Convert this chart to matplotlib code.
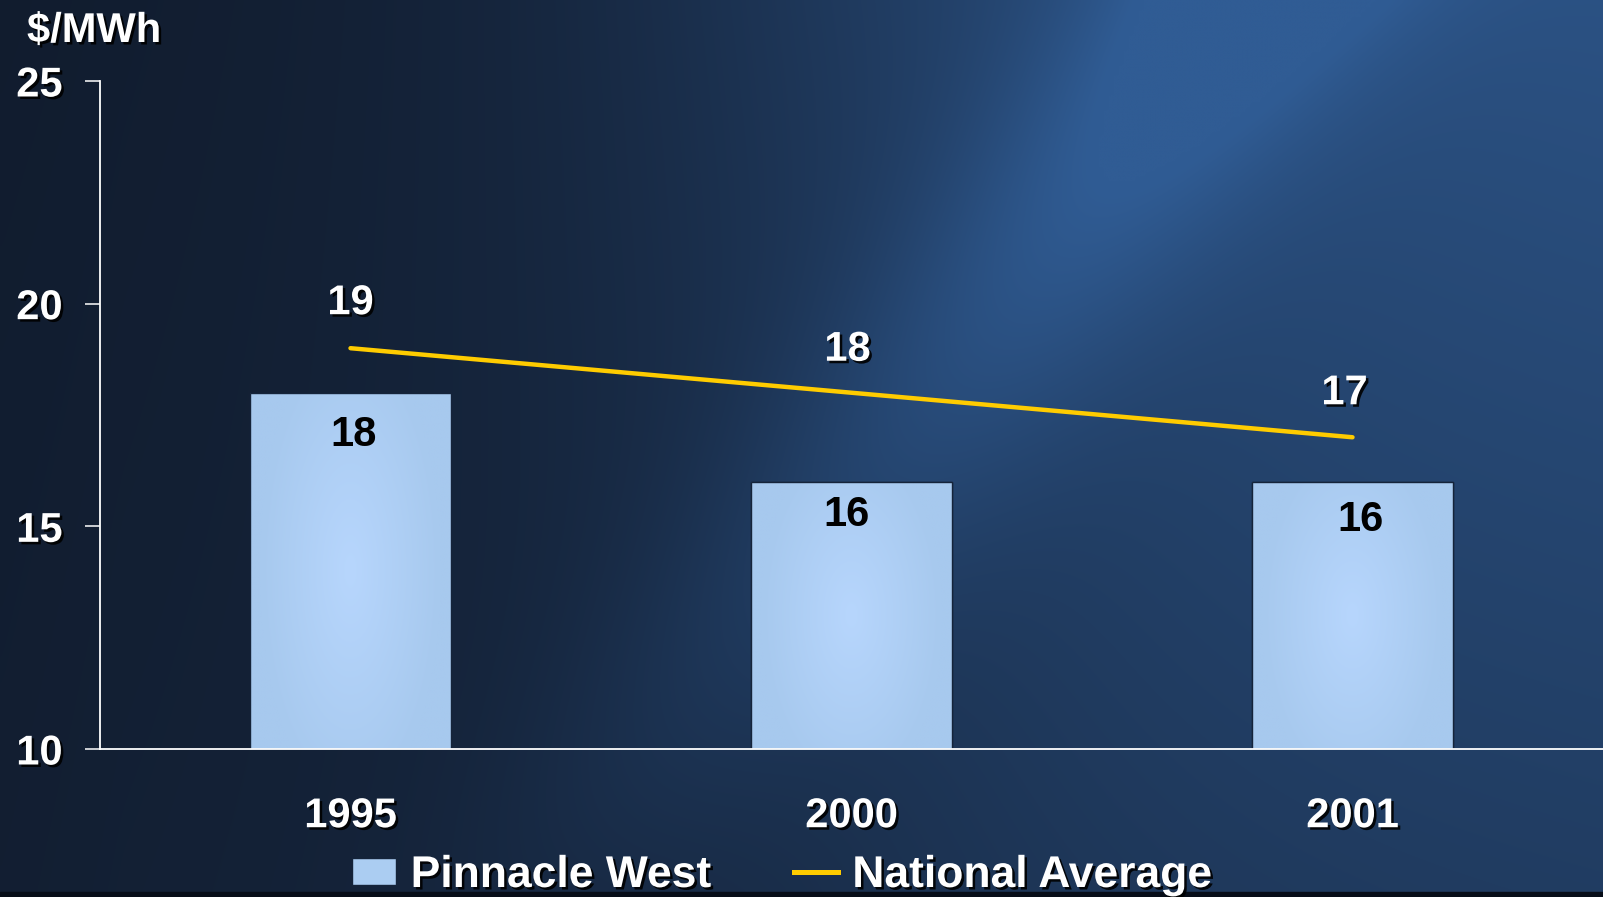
import numpy as np
import matplotlib
matplotlib.use("Agg")
import matplotlib.pyplot as plt
import matplotlib.patheffects as pe
from matplotlib.lines import Line2D
from matplotlib.patches import Patch

# ---- data ----
years = ["1995", "2000", "2001"]
pinnacle_west = [18, 16, 16]
national_average = [19, 18, 17]
y_ticks = [10, 15, 20, 25]
unit_label = "$/MWh"

W, H = 1603, 897
fig = plt.figure(figsize=(W / 100, H / 100), dpi=100)
plt.rcParams['font.family'] = ['Liberation Sans', 'DejaVu Sans']

# ---- background ----
bg = fig.add_axes([0, 0, 1, 1], zorder=-10)
bg.set_axis_off()
h, w = 180, 320
yy, xx = np.mgrid[0:h, 0:w]
X = xx / w * W
Y = yy / h * H
base = np.array(matplotlib.colors.to_rgb('#111c2e'))
hi = np.array(matplotlib.colors.to_rgb('#305c94'))
glow = (1 / (1 + np.exp(-(X - 800) / 180))) * (0.72 - 0.38 * Y / H)
x0, y0, x1, y1 = 1240, 0, 560, 897
dx, dy = x1 - x0, y1 - y0
L = np.hypot(dx, dy)
d = np.abs((X - x0) * dy - (Y - y0) * dx) / L
streak = 0.45 * np.exp(-(d / 130) ** 2) * np.clip(1.0 - Y / 1000, 0, 1)
ramp = 0.12 * X / W + 0.05 * (Y / H)
I = np.clip(glow + streak + ramp, 0, 1)
I = I * np.clip(0.75 + 0.25 * X / 120, 0, 1)
I = I[..., None]
img = base * (1 - I) + hi * I
bg.imshow(img, extent=[0, 1, 0, 1], aspect='auto', interpolation='bicubic')
bg.set_xlim(0, 1)
bg.set_ylim(0, 1)
bg.axhspan(0, 5 / H, color='#070d18')

# ---- main axes ----
ax = fig.add_axes([100 / W, 1 - 749 / H, 1 - 100 / W, (749 - 81) / H])
ax.patch.set_alpha(0)
x = np.arange(len(years))
bar_w = 0.4
bars = ax.bar(x, pinnacle_west, width=bar_w, bottom=0, color='#abcdf2',
              edgecolor='#15243a', linewidth=1.0, zorder=2)

gx = np.linspace(-1, 1, 200)
gy = np.linspace(-1, 1, 200)
GX, GY = np.meshgrid(gx, gy)
gr = np.clip(1 - np.sqrt((GX / 0.9) ** 2 + (GY / 1.3) ** 2), 0, 1)[..., None]
c_edge = np.array(matplotlib.colors.to_rgb('#a7c9ee'))
c_mid = np.array(matplotlib.colors.to_rgb('#b7d6fd'))
gimg = c_edge * (1 - gr) + c_mid * gr
for b in bars:
    x0b, wb, hb = b.get_x(), b.get_width(), b.get_height()
    im = ax.imshow(gimg, extent=[x0b, x0b + wb, 10, hb], aspect='auto',
                   zorder=2.1, interpolation='bilinear')
    im.set_clip_path(b)
for b in bars:
    ax.add_patch(plt.Rectangle((b.get_x(), 10), b.get_width(), b.get_height() - 10,
                               fill=False, edgecolor='#15243a', linewidth=1.0, zorder=2.2))

ax.plot(x, national_average, color='#ffcc00', linewidth=3.2, zorder=3,
        solid_capstyle='round')

shadow = [pe.SimplePatchShadow(offset=(1.8, -1.8), shadow_rgbFace='black', alpha=0.9),
          pe.Normal()]

bar_offsets = [(3, -42), (-5, -33), (8, -38)]
for xi, v, (ox, oy) in zip(x, pinnacle_west, bar_offsets):
    ax.annotate(str(v), (xi, v), xytext=(ox * 0.72, oy * 0.72), textcoords='offset points',
                ha='center', va='center', fontsize=30, fontweight='bold',
                color='black', zorder=4)
line_offsets = [(0, 45), (-4, 43), (-8, 44)]
for xi, v, (ox, oy) in zip(x, national_average, line_offsets):
    ax.annotate(str(v), (xi, v), xytext=(ox * 0.72, oy * 0.72), textcoords='offset points',
                ha='center', va='center', fontsize=30, fontweight='bold',
                color='white', zorder=4, path_effects=shadow)

ax.set_xlim(-0.5, 2.5)
ax.set_ylim(10, 25)
ax.set_yticks(y_ticks)
ax.set_xticks(x)
ax.set_xticklabels(years)
for s in ['top', 'right']:
    ax.spines[s].set_visible(False)
for s in ['left', 'bottom']:
    ax.spines[s].set_color('white')
    ax.spines[s].set_linewidth(1.3)
ax.tick_params(axis='y', direction='out', length=11, width=1.1, color='white',
               pad=16, labelsize=30, labelcolor='white')
ax.tick_params(axis='x', length=0, pad=34, labelsize=30, labelcolor='white')
for lab in ax.get_yticklabels() + ax.get_xticklabels():
    lab.set_fontweight('bold')
    lab.set_path_effects(shadow)

fig.text(27 / W, 1 - 42 / H, unit_label, fontsize=30, fontweight='bold', color='white',
         ha='left', va='baseline', path_effects=shadow)

handles = [Patch(facecolor='#abcdf2', edgecolor='#15243a', linewidth=1.0, label='Pinnacle West'),
           Line2D([0], [0], color='#ffcc00', linewidth=3.6, label='National Average')]
leg = fig.legend(handles=handles, loc='lower left', bbox_to_anchor=(352 / W, 1 / H),
                 ncol=2, frameon=False, fontsize=32, handlelength=1.0, handleheight=0.55,
                 handletextpad=0.32, columnspacing=1.85, borderaxespad=0, borderpad=0)
for t in leg.get_texts():
    t.set_color('white')
    t.set_fontweight('bold')
    t.set_path_effects(shadow)

fig.savefig('out.png', dpi=100)
